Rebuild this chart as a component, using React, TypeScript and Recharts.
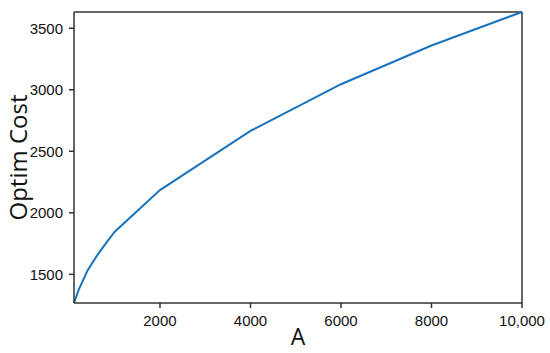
import { LineChart, Line, XAxis, YAxis, ReferenceLine } from 'recharts';

// values
const aValues = [100, 200, 400, 600, 800, 1000, 2000, 4000, 6000, 8000, 10000];
const optimCost = [1267, 1372, 1532, 1648, 1750, 1846, 2185, 2665, 3045, 3360, 3632];

const xTicks = [2000, 4000, 6000, 8000, 10000];
const yTicks = [1500, 2000, 2500, 3000, 3500];

const data = aValues.map((a, i) => ({ a, cost: optimCost[i] }));

const axisColor = '#333';
const tickStyle = { fontSize: 15, fill: '#111', fontFamily: 'Liberation Sans, Arial, sans-serif' };
const labelFont = 'Open Sans, Noto Sans, sans-serif';

export default function App() {
  return (
    <div style={{ position: 'absolute', left: 0, top: 0 }}>
      <LineChart width={550} height={353} data={data} margin={{ top: 12, right: 28, left: 0, bottom: 0 }}>
        <XAxis
          dataKey="a"
          type="number"
          domain={[100, 10000]}
          ticks={xTicks}
          tickFormatter={(v: number) => (v === 10000 ? '10,000' : String(v))}
          height={50}
          stroke={axisColor}
          strokeWidth={1.5}
          tickSize={5}
          tickMargin={7}
          tick={tickStyle}
          label={{ value: 'A', position: 'insideBottom', offset: 8, fontSize: 23, fill: '#111', fontFamily: labelFont }}
        />
        <YAxis
          type="number"
          domain={[1267, 3632]}
          ticks={yTicks}
          width={74}
          stroke={axisColor}
          strokeWidth={1.5}
          tickSize={5}
          tickMargin={6}
          tick={tickStyle}
          label={{ value: 'Optim Cost', angle: -90, position: 'insideLeft', offset: 18, fontSize: 24, fill: '#111', fontFamily: labelFont, style: { textAnchor: 'middle' } }}
        />
        {/* box frame on top and right */}
        <ReferenceLine y={3632} stroke={axisColor} strokeWidth={1.5} />
        <ReferenceLine x={10000} stroke={axisColor} strokeWidth={1.5} />
        <Line
          type="linear"
          dataKey="cost"
          stroke="#1a73bd"
          strokeWidth={2}
          dot={false}
          isAnimationActive={false}
        />
      </LineChart>
    </div>
  );
}
